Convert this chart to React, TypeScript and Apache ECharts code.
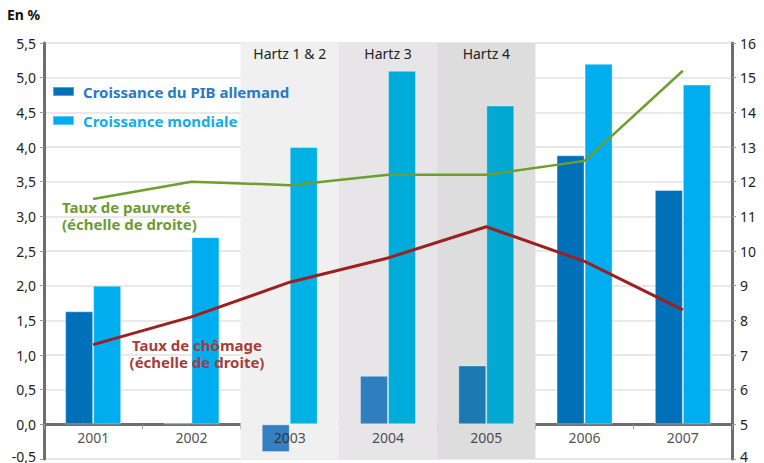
import React, { useEffect, useRef } from "react";
import * as echarts from "echarts";

const years = ["2001", "2002", "2003", "2004", "2005", "2006", "2007"];
const pibAllemand = [1.63, 0.02, -0.4, 0.7, 0.85, 3.88, 3.38];
const croissanceMondiale = [2.0, 2.7, 4.0, 5.1, 4.6, 5.2, 4.9];
const tauxPauvrete = [11.5, 12.0, 11.9, 12.2, 12.2, 12.6, 15.2];
const tauxChomage = [7.3, 8.1, 9.1, 9.8, 10.7, 9.7, 8.3];
const hartzLabels = ["Hartz 1 & 2", "Hartz 3", "Hartz 4"];
const hartzStart = [2, 3, 4];
const hartzColors = ["#eff0ef", "#e7e5e7", "#dddddd"];
const darkColors = ["#0071b9", "#0071b9", "#3580c2", "#2f7fbf", "#1c79b2", "#0071b9", "#0071b9"];
const lightColors = ["#00aeef", "#00aeef", "#00b2e4", "#00acda", "#00a8d2", "#00aeef", "#00aeef"];

const FONT = "'Noto Sans', 'Open Sans', sans-serif";

export default function App() {
  const ref = useRef<HTMLDivElement>(null);
  useEffect(() => {
    if (!ref.current) return;
    const chart = echarts.init(ref.current, null, { renderer: "svg" });
    const axisGray = "#6e6e6e";
    const lift = { padding: [0, 0, 6, 0] };
    chart.setOption({
      animation: false,
      textStyle: { fontFamily: FONT },
      grid: { left: 44, right: 32, top: 43, bottom: 4, containLabel: false, outerBoundsMode: "none" },
      legend: {
        orient: "vertical",
        left: 52,
        top: 84,
        padding: 0,
        itemWidth: 21,
        itemHeight: 9,
        itemGap: 14,
        icon: "rect",
        data: [
          { name: "Croissance du PIB allemand", textStyle: { color: "#2a79c1" } },
          { name: "Croissance mondiale", textStyle: { color: "#14ace6" } },
        ],
        textStyle: { fontFamily: FONT, fontSize: 15, fontWeight: "bold", padding: [0, 0, 0, 4] },
      },
      xAxis: [
        {
          type: "category",
          data: years,
          axisLine: { onZero: true, lineStyle: { color: axisGray, width: 3 } },
          axisTick: { show: true, length: 5, lineStyle: { color: "#999", width: 1 } },
          axisLabel: { show: false },
          splitLine: { show: false },
        },
        { type: "value", min: 0, max: 7, show: false },
      ],
      yAxis: [
        {
          type: "value",
          min: -0.5,
          max: 5.5,
          interval: 0.5,
          axisLine: { show: true, lineStyle: { color: axisGray, width: 3 } },
          axisTick: { show: true, length: 4, lineStyle: { color: "#999" } },
          axisLabel: {
            color: "#222",
            fontSize: 14,
            margin: 8,
            formatter: (v: number) => {
              const s = v.toFixed(1).replace(".", ",");
              return v < 0 ? `{b|${s}}` : s;
            },
            rich: { b: { ...lift, fontSize: 14, color: "#222" } },
          },
          splitLine: { show: true, lineStyle: { color: "#e2e2e2", width: 1.5 } },
        },
        {
          type: "value",
          min: 4,
          max: 16,
          interval: 1,
          axisLine: { show: true, lineStyle: { color: axisGray, width: 3 } },
          axisTick: { show: true, length: 4, lineStyle: { color: "#999" } },
          axisLabel: {
            color: "#222",
            fontSize: 14,
            margin: 8,
            formatter: (v: number) => (v === 4 ? `{b|${v}}` : `${v}`),
            rich: { b: { ...lift, fontSize: 14, color: "#222" } },
          },
          splitLine: { show: false },
        },
      ],
      series: [
        {
          type: "line",
          name: "bands",
          xAxisIndex: 1,
          yAxisIndex: 0,
          z: -1,
          data: [[0, 0]],
          symbol: "none",
          lineStyle: { opacity: 0 },
          silent: true,
          markArea: {
            silent: true,
            data: hartzStart.map((s, i) => [
              {
                xAxis: s,
                itemStyle: { color: hartzColors[i] },
                label: {
                  show: true,
                  position: "insideTop",
                  distance: 3,
                  formatter: hartzLabels[i],
                  color: "#222",
                  fontSize: 14,
                  fontFamily: FONT,
                },
              },
              { xAxis: s + 1 },
            ]),
          },
        },
        {
          type: "bar",
          name: "Croissance du PIB allemand",
          data: pibAllemand.map((v, i) => ({ value: v, itemStyle: { color: darkColors[i] } })),
          itemStyle: { color: "#0071b9", borderColor: "rgba(255,255,255,0.35)", borderWidth: 1 },
          barGap: "0%",
          barCategoryGap: "43%",
          z: 2,
        },
        {
          type: "bar",
          name: "Croissance mondiale",
          data: croissanceMondiale.map((v, i) => ({ value: v, itemStyle: { color: lightColors[i] } })),
          itemStyle: { color: "#00aeef", borderColor: "rgba(255,255,255,0.35)", borderWidth: 1 },
          z: 2,
        },
        {
          type: "scatter",
          name: "yearLabels",
          data: years.map((y) => [y, 0]),
          symbolSize: 0,
          silent: true,
          z: 6,
          label: {
            show: true,
            position: "bottom",
            distance: 6,
            formatter: (p: any) => p.value[0],
            color: "#222",
            fontSize: 14,
            fontFamily: FONT,
          },
        },
        {
          type: "line",
          name: "Taux de pauvreté",
          yAxisIndex: 1,
          data: tauxPauvrete,
          symbol: "none",
          lineStyle: { color: "#6c9f2e", width: 2.5 },
          z: 5,
        },
        {
          type: "line",
          name: "Taux de chômage",
          yAxisIndex: 1,
          data: tauxChomage,
          symbol: "none",
          lineStyle: { color: "#9e1f20", width: 3 },
          z: 5,
        },
      ],
      graphic: [
        {
          type: "text",
          left: 7,
          top: 7,
          style: { text: "En %", fill: "#111", font: `bold 14px ${FONT}` },
        },
        {
          type: "text",
          x: 62,
          y: 198,
          style: {
            text: "Taux de pauvreté\n(échelle de droite)",
            fill: "#6b9b33",
            font: `bold 15px ${FONT}`,
            lineHeight: 17,
          },
          z: 10,
        },
        {
          type: "text",
          x: 197,
          y: 336,
          style: {
            text: "Taux de chômage\n(échelle de droite)",
            fill: "#a63e38",
            font: `bold 15px ${FONT}`,
            lineHeight: 17,
            align: "center",
          },
          z: 10,
        },
      ],
    });
    return () => chart.dispose();
  }, []);
  return <div ref={ref} style={{ width: 764, height: 463, position: "absolute", left: 0, top: 0 }} />;
}
